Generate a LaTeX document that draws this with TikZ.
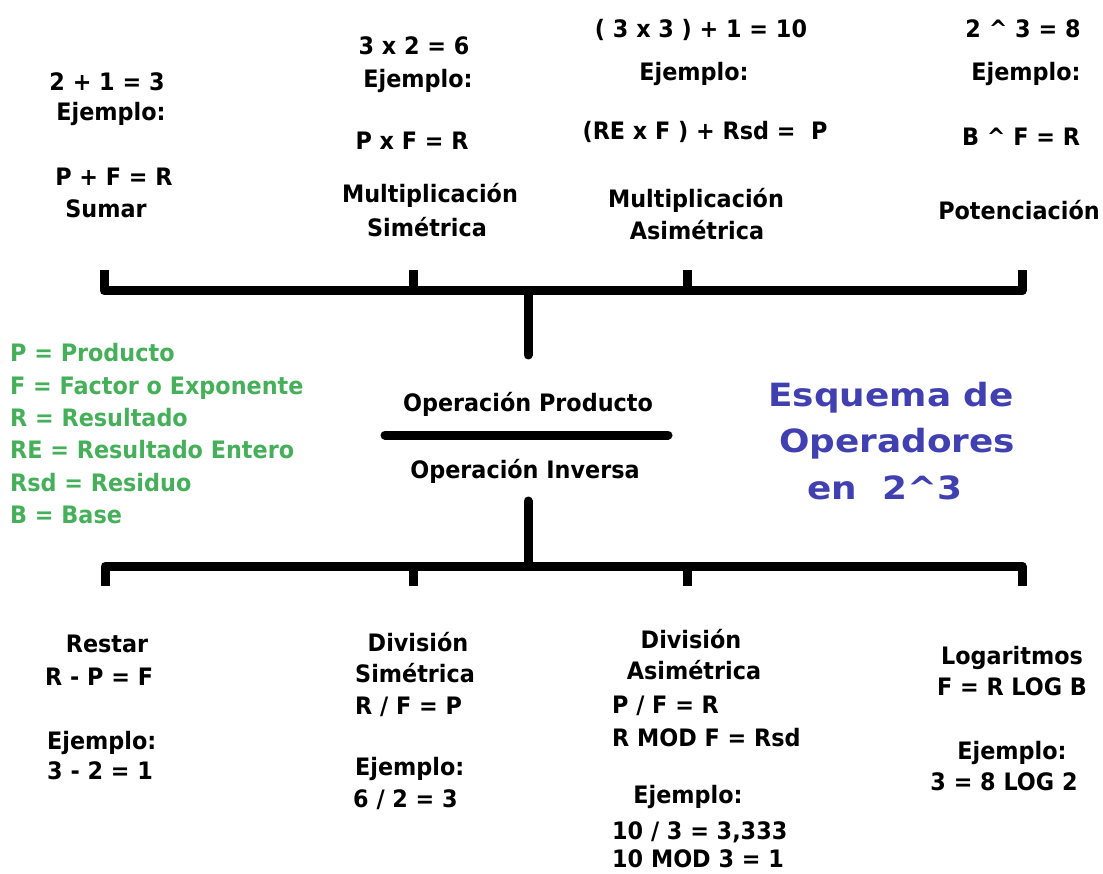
\documentclass[tikz,border=0pt]{standalone}
\usepackage{fontspec}
\setmainfont{DejaVu Sans}
\newfontfamily\labelfont[FakeStretch=0.93]{DejaVu Sans}
\newfontfamily\titlefont[FakeStretch=1.12]{DejaVu Sans}
\definecolor{legendgreen}{RGB}{70,175,90}
\definecolor{titleblue}{RGB}{64,64,176}
\tikzset{
    txt/.style={font=\labelfont\fontsize{24}{28}\selectfont\bfseries,inner sep=0pt,
        text height=17.5pt,text depth=0pt},
    legend/.style={txt,text=legendgreen,anchor=west},
    titletxt/.style={font=\titlefont\fontsize{32}{38}\selectfont\bfseries,
        inner sep=0pt,text height=23pt,text depth=0pt,text=titleblue},
    bar/.style={line width=9pt,line join=round},
}
\begin{document}
\begin{tikzpicture}[x=1pt,y=-1pt]
        \useasboundingbox (0,0) rectangle (1103,874);
        %% Upper bracket
        \coordinate (upLtop) at (104,270);
        \coordinate (upR) at (1022,291);
        \coordinate (upRtop) at (1022,270);
        \coordinate (upA) at (413,291);
        \coordinate (upAtop) at (413,270);
        \coordinate (upB) at (687,291);
        \coordinate (upBtop) at (687,270);
        \coordinate (upStem) at (528,291);
        \coordinate (upTip) at (528,355);
        \draw[bar] (upLtop) |- (upR) -- (upRtop);
        \draw[bar] (upA) -- (upAtop);
        \draw[bar] (upB) -- (upBtop);
        \draw[bar,line cap=round] (upStem) -- (upTip);
        %% Fraction bar
        \coordinate (midL) at (385,435);
        \coordinate (midR) at (668,435);
        \draw[bar,line cap=round] (midL) -- (midR);
        %% Lower bracket
        \coordinate (loTip) at (528,501);
        \coordinate (loStem) at (528,566);
        \coordinate (loLbot) at (105,586);
        \coordinate (loR) at (1022,566);
        \coordinate (loRbot) at (1022,586);
        \coordinate (loA) at (413,566);
        \coordinate (loAbot) at (413,586);
        \coordinate (loB) at (687,566);
        \coordinate (loBbot) at (687,586);
        \draw[bar,line cap=round] (loTip) -- (loStem);
        \draw[bar] (loLbot) |- (loR) -- (loRbot);
        \draw[bar] (loA) -- (loAbot);
        \draw[bar] (loB) -- (loBbot);
        %% Sumar
        \node[txt] (sumRes) at (107,82) {2 + 1 = 3};
        \node[txt] (sumEj) at (111,112) {Ejemplo:};
        \node[txt] (sumFor) at (114,177) {P + F = R};
        \node[txt] (sumName) at (106,209) {Sumar};
        %% Multiplicacion simetrica
        \node[txt] (msRes) at (414,46) {3 x 2 = 6};
        \node[txt] (msEj) at (418,79) {Ejemplo:};
        \node[txt] (msFor) at (412,141) {P x F = R};
        \node[txt] (msName) at (430,194) {Multiplicación};
        \node[txt] (msName2) at (427,228) {Simétrica};
        %% Multiplicacion asimetrica
        \node[txt] (maRes) at (701,29) {( 3 x 3 ) + 1 = 10};
        \node[txt] (maEj) at (694,72) {Ejemplo:};
        \node[txt] (maFor) at (705,131) {(RE x F ) + Rsd =\ \ P};
        \node[txt] (maName) at (696,199) {Multiplicación};
        \node[txt] (maName2) at (697,231) {Asimétrica};
        %% Potenciacion
        \node[txt] (poRes) at (1023,29) {2 \textasciicircum{} 3 = 8};
        \node[txt] (poEj) at (1026,72) {Ejemplo:};
        \node[txt] (poFor) at (1021,137) {B \textasciicircum{} F = R};
        \node[txt] (poName) at (1019,211) {Potenciación};
        %% Legend
        \node[legend] (leyP) at (10,353) {P = Producto};
        \node[legend] (leyF) at (10,386) {F = Factor o Exponente};
        \node[legend] (leyR) at (10,418) {R = Resultado};
        \node[legend] (leyRE) at (10,450) {RE = Resultado Entero};
        \node[legend] (leyRsd) at (10,483) {Rsd = Residuo};
        \node[legend] (leyB) at (10,515) {B = Base};
        %% Centre
        \node[txt] (opProd) at (528,403) {Operación Producto};
        \node[txt] (opInv) at (525,470) {Operación Inversa};
        %% Title
        \node[titletxt] (tit1) at (891,395) {Esquema de};
        \node[titletxt] (tit2) at (897,441) {Operadores};
        \node[titletxt] (tit3) at (885,488) {en\ \ 2\textasciicircum 3};
        %% Restar
        \node[txt] (reName) at (107,644) {Restar};
        \node[txt,anchor=west] (reFor) at (45,677) {R - P = F};
        \node[txt,anchor=west] (reEj) at (47,741) {Ejemplo:};
        \node[txt,anchor=west] (reRes) at (47,771) {3 - 2 = 1};
        %% Division simetrica
        \node[txt] (dsName) at (418,643) {División};
        \node[txt,anchor=west] (dsName2) at (355,674) {Simétrica};
        \node[txt,anchor=west] (dsFor) at (355,706) {R / F = P};
        \node[txt,anchor=west] (dsEj) at (355,767) {Ejemplo:};
        \node[txt,anchor=west] (dsRes) at (353,799) {6 / 2 = 3};
        %% Division asimetrica
        \node[txt] (daName) at (691,640) {División};
        \node[txt] (daName2) at (694,671) {Asimétrica};
        \node[txt,anchor=west] (daFor) at (612,705) {P / F = R};
        \node[txt,anchor=west] (daMod) at (612,738) {R MOD F = Rsd};
        \node[txt] (daEj) at (688,795) {Ejemplo:};
        \node[txt,anchor=west] (daRes) at (612,831) {10 / 3 = 3,333};
        \node[txt,anchor=west] (daResMod) at (612,859) {10 MOD 3 = 1};
        %% Logaritmos
        \node[txt] (logName) at (1012,656) {Logaritmos};
        \node[txt] (logFor) at (1012,687) {F = R LOG B};
        \node[txt] (logEj) at (1012,751) {Ejemplo:};
        \node[txt] (logRes) at (1004,782) {3 = 8 LOG 2};
    \end{tikzpicture}
\end{document}
